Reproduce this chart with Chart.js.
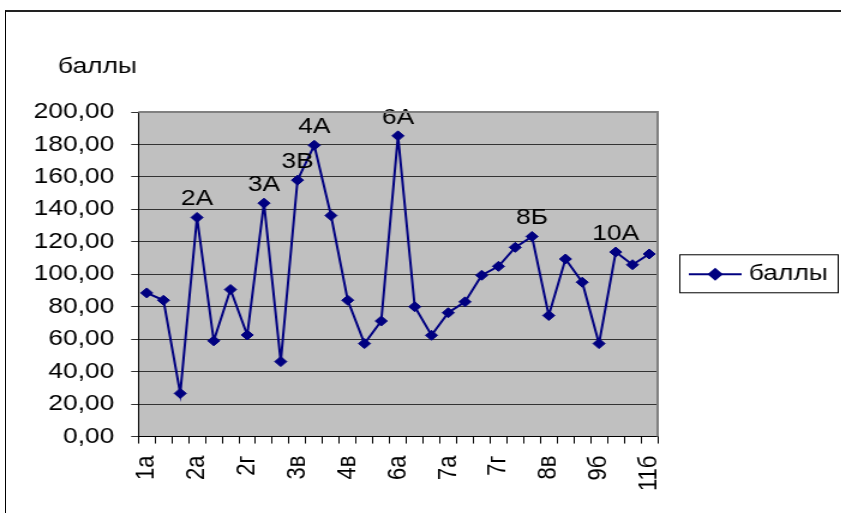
<!DOCTYPE html>
<html>
<head>
<meta charset="utf-8">
<script src="https://cdn.jsdelivr.net/npm/chart.js@4.4.0/dist/chart.umd.min.js"></script>
<style>
  html, body { margin: 0; padding: 0; background: #fff; overflow: hidden; }
  #frame { position: absolute; left: 5px; top: 10px; width: 900px; height: 600px; border-left: 1px solid #000; border-top: 2px solid #222; }
  /* the original picture is stretched sideways, so the chart is drawn narrower and scaled */
  #wrap { position: absolute; left: 0; top: 0; width: 701px; height: 513px; transform: scaleX(1.2); transform-origin: 0 0; }
</style>
</head>
<body>
<div id="frame"></div>
<div id="wrap"><canvas id="myChart"></canvas></div>
<script>
// classes along the x axis (only every third one is printed)
const categories = ['1а', '1б', '1в', '2а', '2б', '2в', '2г', '3а', '3б', '3в', '4а',
                    '4б', '4в', '5а', '5б', '6а', '6б', '6в', '7а', '7б', '7в', '7г',
                    '8а', '8б', '8в', '8г', '9а', '9б', '10а', '11а', '11б'];
const scores = [88.5, 84, 26.6, 135, 59, 90.6, 62.6, 143.8, 46.2, 158, 179.5,
                136.2, 84, 57.3, 71.2, 185.3, 80, 62.4, 76.3, 83, 99.4,
                104.9, 116.6, 123.3, 74.6, 109.4, 95.1, 57.3, 113.7, 105.9, 112.5];
// points that carry a class label above them
const labelledPoints = [3, 7, 9, 10, 15, 23, 28];
const seriesName = 'баллы';
const axisTitle = 'баллы';
const yMin = 0, yMax = 200, yStep = 20;

const FONT = "'Liberation Sans', Arial, sans-serif";
const NAVY = '#000080';

const excelLook = {
    id: 'excelLook',
    beforeDraw(chart) {
        const { ctx, chartArea: a } = chart;
        ctx.save();
        ctx.fillStyle = '#c0c0c0';
        ctx.fillRect(a.left, a.top, a.right - a.left, a.bottom - a.top);
        ctx.restore();
    },
    afterDatasetsDraw(chart) {
        const ctx = chart.ctx;
        const meta = chart.getDatasetMeta(0);
        ctx.save();
        ctx.fillStyle = '#000';
        ctx.font = '22px ' + FONT;
        ctx.textAlign = 'center';
        ctx.textBaseline = 'alphabetic';
        labelledPoints.forEach(function(i) {
            const p = meta.data[i];
            ctx.fillText(categories[i].toUpperCase(), p.x, p.y - 12);
        });
        ctx.restore();
    },
    afterDraw(chart) {
        const { ctx, chartArea: a } = chart;
        ctx.save();
        // grey frame on the top and right of the plot
        ctx.strokeStyle = '#808080';
        ctx.lineWidth = 2;
        ctx.beginPath();
        ctx.moveTo(a.left, a.top);
        ctx.lineTo(a.right, a.top);
        ctx.lineTo(a.right, a.bottom);
        ctx.stroke();

        // axis title above the y labels
        ctx.fillStyle = '#000';
        ctx.font = '22px ' + FONT;
        ctx.textAlign = 'left';
        ctx.textBaseline = 'middle';
        ctx.fillText(axisTitle, a.left - 67, a.top - 45);

        // legend box
        const lx = a.right + 18;
        const ly = (a.top + a.bottom) / 2;
        ctx.strokeStyle = '#000';
        ctx.lineWidth = 1;
        ctx.strokeRect(lx + 0.5, ly - 19.5, 132, 38);
        ctx.strokeStyle = NAVY;
        ctx.lineWidth = 2;
        ctx.beginPath();
        ctx.moveTo(lx + 8, ly);
        ctx.lineTo(lx + 52, ly);
        ctx.stroke();
        ctx.fillStyle = NAVY;
        Chart.helpers.drawPoint(ctx, { pointStyle: 'rectRot', radius: 5, borderWidth: 1 }, lx + 30, ly);
        ctx.fillStyle = '#000';
        ctx.fillText(seriesName, lx + 58, ly);
        ctx.restore();
    }
};

const ctx = document.getElementById('myChart').getContext('2d');
const myChart = new Chart(ctx, {
    type: 'line',
    data: {
        labels: categories,
        datasets: [{
            label: seriesName,
            data: scores,
            borderColor: NAVY,
            backgroundColor: NAVY,
            borderWidth: 2,
            tension: 0,
            fill: false,
            pointStyle: 'rectRot',
            pointRadius: 5,
            pointBorderWidth: 1,
            pointBackgroundColor: NAVY,
            pointBorderColor: NAVY
        }]
    },
    options: {
        responsive: true,
        maintainAspectRatio: false,
        animation: false,
        layout: { padding: { top: 112, left: 14, right: 153, bottom: 10 } },
        plugins: {
            legend: { display: false },
            tooltip: { enabled: false }
        },
        scales: {
            x: {
                offset: true,
                grid: { display: true, drawOnChartArea: false, offset: true, color: '#000', tickLength: 7 },
                border: { display: true, color: '#000', width: 1 },
                ticks: {
                    autoSkip: false,
                    minRotation: 90,
                    maxRotation: 90,
                    padding: 12,
                    color: '#000',
                    font: { family: FONT, size: 22 },
                    callback: function(value, index) {
                        return index % 3 === 0 ? categories[index] : '';
                    }
                }
            },
            y: {
                min: yMin,
                max: yMax,
                grid: { color: '#333', tickLength: 6 },
                border: { display: true, color: '#000', width: 1 },
                ticks: {
                    stepSize: yStep,
                    padding: 14,
                    color: '#000',
                    font: { family: FONT, size: 22 },
                    callback: function(value) {
                        return value.toFixed(2).replace('.', ',');
                    }
                }
            }
        }
    },
    plugins: [excelLook]
});
</script>
</body>
</html>
